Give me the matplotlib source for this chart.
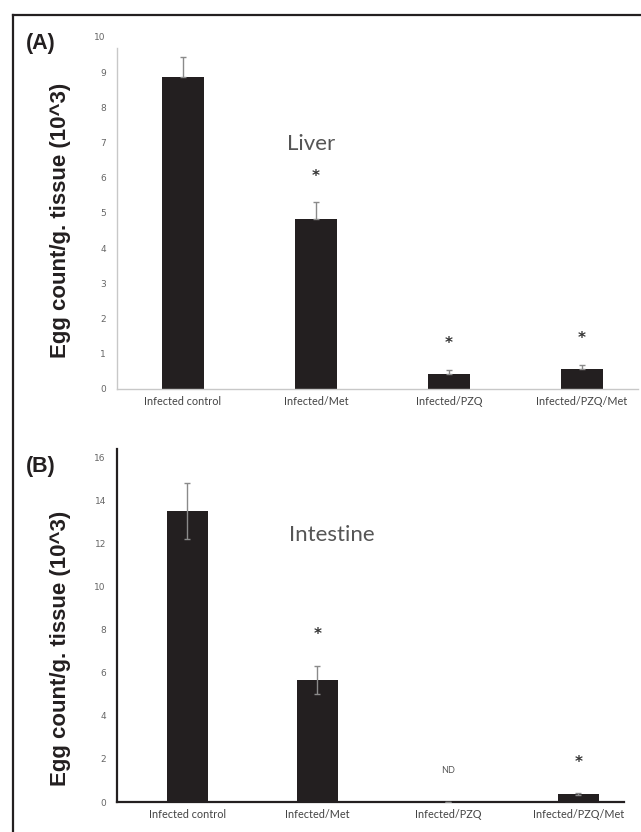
import matplotlib
matplotlib.use("Agg")
import matplotlib.pyplot as plt
from matplotlib.lines import Line2D

W, H, DPI = 641, 832, 100

groups = ["Infected control", "Infected/Met", "Infected/PZQ", "Infected/PZQ/Met"]

liver_mean = [8.87, 4.82, 0.42, 0.57]
liver_err = [0.56, 0.48, 0.12, 0.11]
liver_sig = ["", "*", "*", "*"]

intestine_mean = [13.53, 5.67, 0.0, 0.37]
intestine_err = [1.30, 0.65, 0.0, 0.03]
intestine_sig = ["", "*", "ND", "*"]

YLABEL = "Egg count/g. tissue (10^3)"
TICK_FONT = "Lato"


def px_axes(fig, left, right, top, bottom):
    # pixel box (top-left origin) -> figure fraction
    return fig.add_axes([left / W, 1 - bottom / H, (right - left) / W, (bottom - top) / H])


def draw_panel(ax, means, errs, sigs, ylim, yticks, xlim, spine_color, spine_w, one_sided, star_off):
    x = list(range(len(groups)))
    ax.bar(x, means, width=0.315, color="#231f20", zorder=2)
    if one_sided:
        yerr = [[0] * len(errs), errs]
    else:
        yerr = errs
    ax.errorbar(x, means, yerr=yerr, fmt="none", ecolor="#8a8a8a", elinewidth=1.0,
                capsize=2.5, capthick=1.0, zorder=3)
    for xi, m, e, s in zip(x, means, errs, sigs):
        if not s:
            continue
        if s == "*":
            ax.text(xi, m + e + star_off, s, ha="center", va="center", fontsize=11,
                    fontweight="bold", color="#333333", family="DejaVu Sans")
        else:
            ax.text(xi, m + e + star_off, s, ha="center", va="center", fontsize=6.5,
                    color="#555555", family=TICK_FONT)
    ax.set_xlim(*xlim)
    ax.set_ylim(*ylim)
    ax.set_yticks(yticks)
    ax.set_xticks(x)
    ax.set_xticklabels(groups, fontsize=7.8, family=TICK_FONT, color="#444444")
    ax.tick_params(axis="y", labelsize=6.5, labelcolor="#666666", length=0, pad=8)
    ax.tick_params(axis="x", length=0, pad=5)
    for side in ["top", "right"]:
        ax.spines[side].set_visible(False)
    for side in ["left", "bottom"]:
        ax.spines[side].set_color(spine_color)
        ax.spines[side].set_linewidth(spine_w)
    ax.patch.set_alpha(0)


fig = plt.figure(figsize=(W / DPI, H / DPI), dpi=DPI)

# outer frame: top and left edges only
fig.add_artist(Line2D([12.5 / W, 1], [1 - 14.5 / H, 1 - 14.5 / H], color="#231f20", lw=1.6,
                      transform=fig.transFigure))
fig.add_artist(Line2D([12.5 / W, 12.5 / W], [0, 1 - 14.5 / H], color="#231f20", lw=1.6,
                      transform=fig.transFigure))

# panel A - liver
ax_a = px_axes(fig, 117, 638, 37, 389)
draw_panel(ax_a, liver_mean, liver_err, liver_sig, (0, 10), range(0, 11),
           (-0.496, 3.42), "#c8c8c8", 1.0, True, 0.75)
ax_a.spines["left"].set_bounds(0, 9.7)
ax_a.text(0.78, 6.95, "Liver", fontsize=16, color="#555555", family=TICK_FONT, ha="left", va="center")

# panel B - intestine
ax_b = px_axes(fig, 117, 624, 449, 802)
draw_panel(ax_b, intestine_mean, intestine_err, intestine_sig, (0, 16.4), range(0, 17, 2),
           (-0.537, 3.35), "#231f20", 1.6, False, 1.45)
ax_b.text(0.78, 12.4, "Intestine", fontsize=16, color="#555555", family=TICK_FONT, ha="left", va="center")

# panel letters and y labels
fig.text(26 / W, 1 - 43 / H, "(A)", fontsize=15.5, fontweight="bold", family="Liberation Sans",
         ha="left", va="center", color="#231f20")
fig.text(26 / W, 1 - 467 / H, "(B)", fontsize=15.5, fontweight="bold", family="Liberation Sans",
         ha="left", va="center", color="#231f20")
fig.text(61 / W, 1 - 220 / H, YLABEL, rotation=90, fontsize=16, fontweight="bold",
         family="Liberation Sans", ha="center", va="center", color="#231f20")
fig.text(61 / W, 1 - 648 / H, YLABEL, rotation=90, fontsize=16, fontweight="bold",
         family="Liberation Sans", ha="center", va="center", color="#231f20")

fig.savefig("out.png", dpi=DPI)
